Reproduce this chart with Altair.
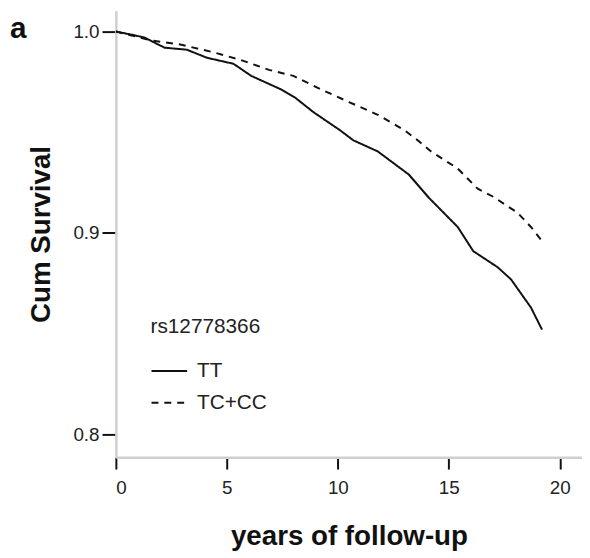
import altair as alt
import pandas as pd

# Kaplan-Meier curves
tt_years = [0, 0.7, 1.3, 1.9, 2.2, 3.2, 4.1, 5.3, 6.1, 7.4, 8.1, 8.9, 10.1, 10.7, 11.8, 13.2, 14.1, 15.4, 16.1, 17.2, 17.8, 18.7, 19.2]
tt_surv = [1.0, 0.9985, 0.997, 0.9936, 0.992, 0.991, 0.987, 0.984, 0.978, 0.9715, 0.967, 0.960, 0.951, 0.946, 0.9405, 0.929, 0.9175, 0.903, 0.891, 0.883, 0.877, 0.863, 0.852]

tc_years = [0, 1.6, 2.9, 4.4, 5.6, 6.9, 8.0, 9.2, 10.5, 11.8, 13.0, 13.6, 14.2, 15.4, 16.3, 17.0, 18.1, 18.7, 19.2]
tc_surv = [1.0, 0.9956, 0.9936, 0.9897, 0.986, 0.981, 0.978, 0.9715, 0.965, 0.9587, 0.951, 0.946, 0.9405, 0.932, 0.922, 0.918, 0.910, 0.903, 0.896]

groups = ["TT", "TC+CC"]
x_ticks = [0, 5, 10, 15, 20]
y_ticks = [0.8, 0.9, 1.0]

df = pd.concat([
    pd.DataFrame({"years": tt_years, "surv": tt_surv, "group": groups[0], "order": range(len(tt_years))}),
    pd.DataFrame({"years": tc_years, "surv": tc_surv, "group": groups[1], "order": range(len(tc_years))}),
])

FONT = "Liberation Sans"

lines = alt.Chart(df).mark_line(strokeWidth=2, color="#111", clip=True).encode(
    x=alt.X("years:Q", scale=alt.Scale(domain=[0, 21], nice=False, zero=False),
            axis=alt.Axis(values=x_ticks, title="years of follow-up", format="d",
                          tickSize=12, tickWidth=2, tickColor="#111",
                          domainColor="#cfcfcf", domainWidth=2.5,
                          labelFontSize=19, labelColor="#222", labelPadding=10,
                          titleFontSize=28, titleFontWeight="bold", titleColor="#111",
                          titlePadding=25, grid=False)),
    y=alt.Y("surv:Q", scale=alt.Scale(domain=[0.7887, 1.0103], nice=False, zero=False),
            axis=alt.Axis(values=y_ticks, title="Cum Survival", format=".1f",
                          tickSize=14, tickWidth=2, tickColor="#111",
                          domainColor="#cfcfcf", domainWidth=2.5,
                          labelFontSize=19, labelColor="#222", labelPadding=3,
                          titleFontSize=28, titleFontWeight="bold", titleColor="#111",
                          titlePadding=18, grid=False)),
    strokeDash=alt.StrokeDash("group:N",
        scale=alt.Scale(domain=groups, range=[[1, 0], [7, 6]]),
        legend=alt.Legend(title="rs12778366", orient="none", legendX=35, legendY=309,
                          titleFontSize=21, titleFontWeight="normal", titleColor="#222",
                          titlePadding=15, labelFontSize=21, labelColor="#222",
                          labelOffset=9, symbolType="stroke", symbolSize=1296,
                          symbolStrokeColor="#111", symbolStrokeWidth=2, rowPadding=3,
                          padding=0)),
    order="order:Q",
)

panel = alt.Chart(pd.DataFrame({"t": ["a"]})).mark_text(
    font=FONT, fontSize=30, fontWeight="bold", color="#111", align="left", baseline="alphabetic"
).encode(text="t:N", x=alt.value(-107), y=alt.value(27))

chart = alt.layer(lines, panel).properties(
    width=471, height=451,
    autosize=alt.AutoSizeParams(type="none"),
    padding={"left": 109, "top": 0, "right": 0, "bottom": 97},
).configure(font=FONT).configure_view(stroke=None)

chart.save("out.html", embed_options={"renderer": "svg", "actions": False})
